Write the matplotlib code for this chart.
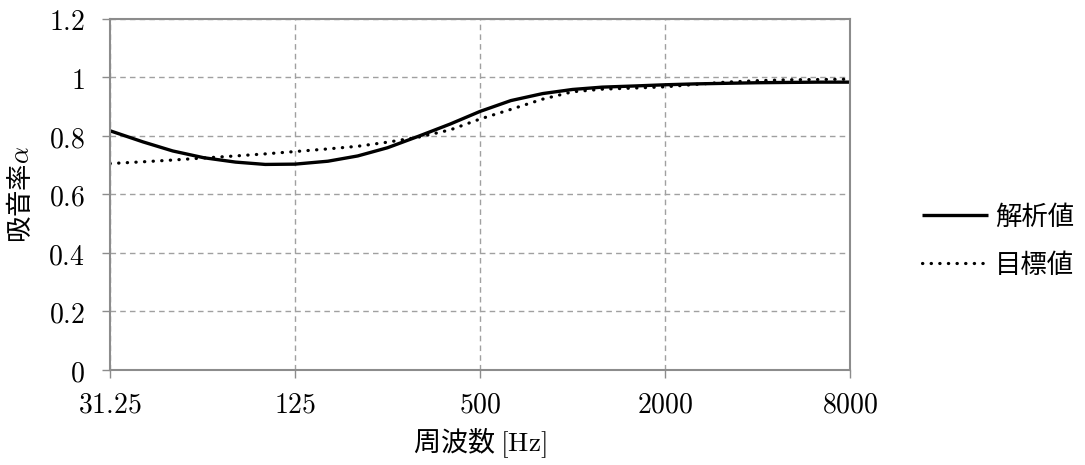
import matplotlib
matplotlib.use("Agg")
import matplotlib.pyplot as plt
import numpy as np

plt.rcParams['font.family'] = ['Noto Sans CJK JP', 'DejaVu Sans']
plt.rcParams['mathtext.fontset'] = 'cm'

# 1/3 octave frequencies [Hz]
freq = [31.25, 40, 50, 63, 80, 100, 125, 160, 200, 250, 315, 400, 500,
        630, 800, 1000, 1250, 1600, 2000, 2500, 3150, 4000, 5000, 6300, 8000]

# analysed absorption coefficient
alpha_calc = [0.817, 0.779, 0.748, 0.725, 0.710, 0.702, 0.703, 0.713, 0.731,
              0.759, 0.798, 0.840, 0.883, 0.920, 0.944, 0.958, 0.966, 0.970,
              0.974, 0.977, 0.979, 0.981, 0.982, 0.983, 0.983]

# target absorption coefficient
alpha_target = [0.705, 0.711, 0.717, 0.724, 0.731, 0.738, 0.746, 0.755, 0.764,
                0.778, 0.795, 0.820, 0.857, 0.890, 0.925, 0.950, 0.959, 0.963,
                0.967, 0.975, 0.983, 0.988, 0.991, 0.992, 0.993]

xticks = [31.25, 125, 500, 2000, 8000]
xticklabels = ["31.25", "125", "500", "2000", "8000"]
yticks = [0, 0.2, 0.4, 0.6, 0.8, 1.0, 1.2]
yticklabels = ["0", "0.2", "0.4", "0.6", "0.8", "1", "1.2"]

fig = plt.figure(figsize=(10.85, 4.65), dpi=100)
ax = fig.add_axes([0.1014, 0.2043, 0.682, 0.7557])

ax.plot(freq, alpha_calc, color="black", lw=2.4, label="解析値",
        solid_capstyle="butt", solid_joinstyle="round")
ax.plot(freq, alpha_target, color="black", lw=2.3, label="目標値",
        linestyle=(0, (0.1, 2.6)), dash_capstyle="round")

ax.set_xscale("log", base=2)
ax.set_xlim(31.25, 8000)
ax.set_ylim(0, 1.2)
ax.set_xticks(xticks)
ax.set_xticklabels(["$" + s + "$" for s in xticklabels])
ax.set_yticks(yticks)
ax.set_yticklabels(["$" + s + "$" for s in yticklabels])
ax.minorticks_off()

ax.grid(True, color="#a0a0a0", linestyle=(0, (4, 3)), lw=1)
for s in ax.spines.values():
    s.set_color("#8c8c8c")
    s.set_linewidth(1.5)
ax.tick_params(direction="out", length=6, width=1, color="#8c8c8c",
               labelsize=20, pad=8)
ax.tick_params(axis="y", pad=12)

ax.set_xlabel(r"周波数 $[\mathrm{Hz}]$", fontsize=19.5)
ax.set_ylabel(r"吸音率$\alpha$", fontsize=19)
ax.xaxis.set_label_coords(0.5, -0.16)
ax.yaxis.set_label_coords(-0.102, 0.5)

leg = ax.legend(loc="center left", bbox_to_anchor=(1.097, 0.367), frameon=False,
                fontsize=19, handlelength=2.5, handletextpad=0.27,
                labelspacing=0.8, borderaxespad=0, borderpad=0)

fig.savefig("out.png", dpi=100)
